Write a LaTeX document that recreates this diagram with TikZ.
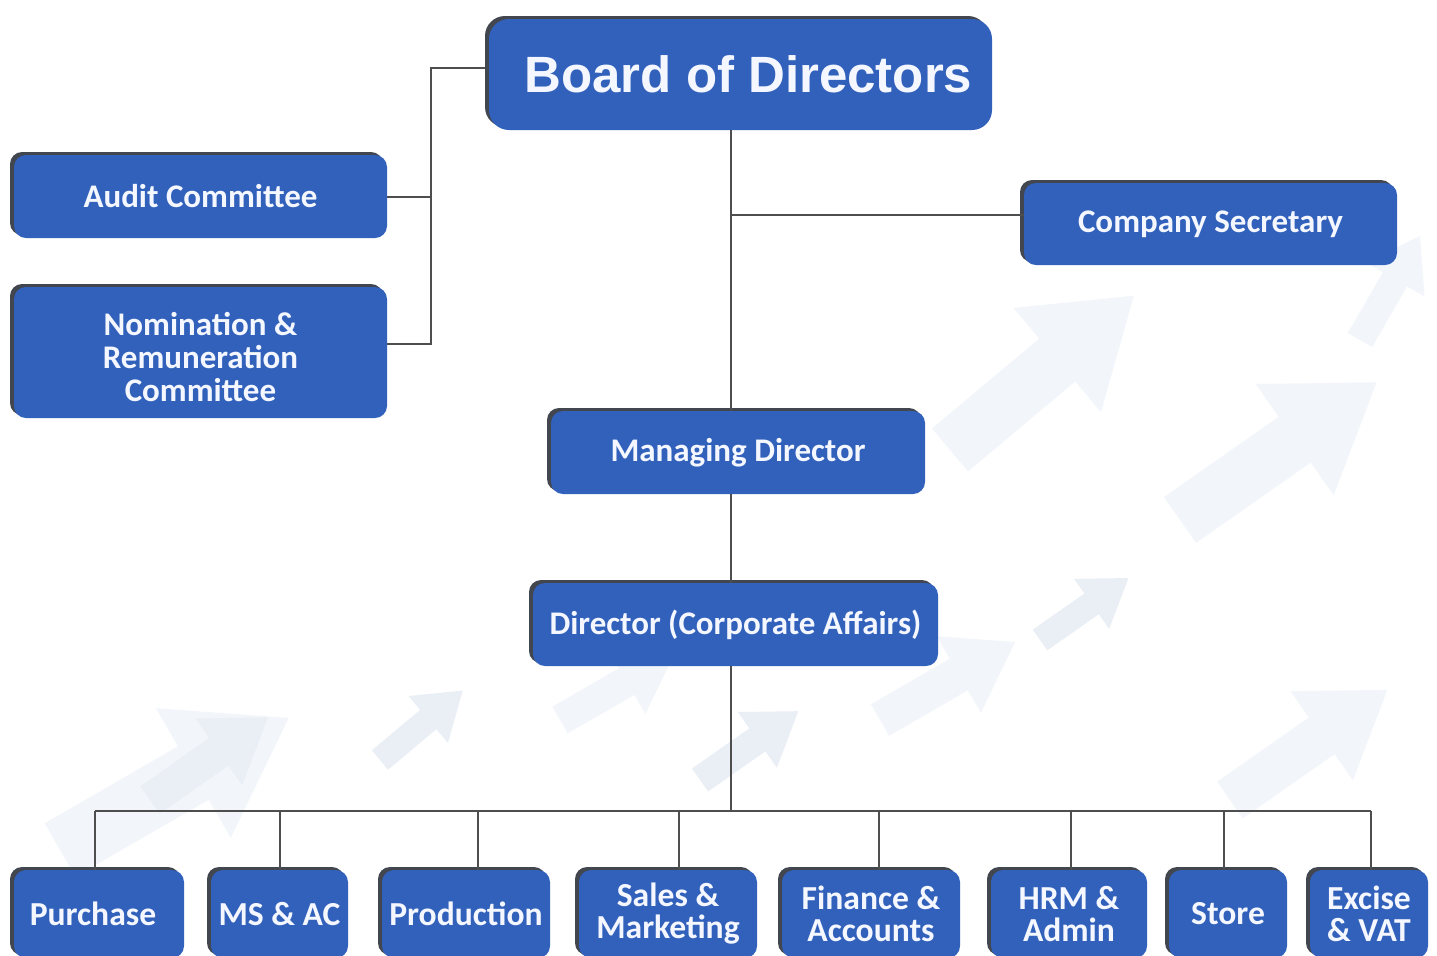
\documentclass[tikz,border=0pt]{standalone}
\usepackage{fontspec}
\setmainfont{Carlito}
\newfontfamily\boardfont{Liberation Sans}
\usetikzlibrary{shadows}
\definecolor{boxblue}{RGB}{50,97,188}
\definecolor{shadowgray}{RGB}{66,70,78}
\definecolor{linegray}{RGB}{78,78,78}
\definecolor{txtcol}{RGB}{244,247,255}
\definecolor{bgA}{RGB}{242,246,251}
\definecolor{bgB}{RGB}{234,239,246}
\newcommand{\bgarrow}[5]{%
  \begin{scope}[shift={(#1,#2)}, rotate=#3, scale=#4]
    \fill[#5] (0,-14) -- (70,-14) -- (70,-34) -- (120,0) -- (70,34) -- (70,14) -- (0,14) -- cycle;
  \end{scope}}
\tikzset{
  orgbox/.style={draw=none, fill=boxblue, rounded corners=6pt, text=txtcol,
    font=\bfseries\fontsize{16.5}{16.5}\selectfont, align=center, inner sep=0pt,
    general shadow={fill=shadowgray, shadow xshift=-2pt, shadow yshift=1.5pt}},
  botbox/.style={orgbox, minimum height=44pt, font=\bfseries\fontsize{16.8}{16}\selectfont},
  link/.style={draw=linegray, line width=1pt},
}
\begin{document}
\begin{tikzpicture}[x=0.5pt,y=-0.5pt]
\useasboundingbox (0,0) rectangle (1437,955);
\clip (0,0) rectangle (1437,955);
\fill[white] (0,0) rectangle (1437,955);
% faint background arrows
\bgarrow{60}{850}{30}{2.2}{bgA}
\bgarrow{150}{800}{35}{1.2}{bgB}
\bgarrow{380}{760}{40}{0.9}{bgB}
\bgarrow{560}{720}{30}{1.1}{bgA}
\bgarrow{700}{780}{35}{1.0}{bgB}
\bgarrow{880}{720}{30}{1.3}{bgA}
\bgarrow{1040}{640}{35}{0.9}{bgB}
\bgarrow{950}{450}{40}{2.0}{bgA}
\bgarrow{1180}{520}{35}{2.0}{bgA}
\bgarrow{1230}{800}{35}{1.6}{bgA}
\bgarrow{1360}{340}{60}{1.0}{bgA}

% nodes
\node[orgbox, minimum width=251.5pt, minimum height=55.5pt, rounded corners=10pt,
  font=\boardfont\bfseries\fontsize{25.5}{25.5}\selectfont] (board) at (740.5,74.5) {\hspace{8pt}Board of Directors};
\node[orgbox, minimum width=186.5pt, minimum height=41.5pt] (audit) at (200.5,196.5) {Audit Committee};
\node[orgbox, minimum width=186.5pt, minimum height=65.5pt] (nom) at (200.5,352.5) {\rule{0pt}{16pt}Nomination \&\\Remuneration\\Committee};
\node[orgbox, minimum width=186.5pt, minimum height=41pt] (sec) at (1210.5,224) {Company Secretary};
\node[orgbox, minimum width=187pt, minimum height=41.5pt] (md) at (738,452.5) {Managing Director};
\node[orgbox, minimum width=202.5pt, minimum height=41.5pt] (dir) at (735.5,624.5) {Director (Corporate Affairs)};

\node[botbox, minimum width=85pt] (purchase) at (99,914) {Purchase\hspace{6pt}};
\node[botbox, minimum width=68.5pt] (msac) at (279.5,914) {MS \& AC};
\node[botbox, minimum width=84pt] (prod) at (466,914) {Production};
\node[botbox, minimum width=89pt] (sales) at (668,914) {Sales \&\\Marketing};
\node[botbox, minimum width=89pt] (fin) at (871,914) {Finance \&\\Accounts};
\node[botbox, minimum width=78pt] (hrm) at (1069,914) {HRM \&\\Admin};
\node[botbox, minimum width=59pt] (store) at (1228,914) {Store};
\node[botbox, minimum width=59pt] (excise) at (1369,914) {Excise\\\& VAT};

% helper coordinates
\coordinate (cj) at (431,68);
\coordinate (spine) at (731,0);
\coordinate (bus) at (0,811);
\coordinate (d1) at ([xshift=-2pt]purchase.north);
\coordinate (d2) at (msac.north);
\coordinate (d3) at ([xshift=6pt]prod.north);
\coordinate (d4) at ([xshift=5.5pt]sales.north);
\coordinate (d5) at ([xshift=4pt]fin.north);
\coordinate (d6) at ([xshift=1pt]hrm.north);
\coordinate (d7) at ([xshift=-2pt]store.north);
\coordinate (d8) at ([xshift=1pt]excise.north);
\coordinate (nomj) at ([yshift=4.5pt]nom.east);
\coordinate (secj) at ([yshift=4.5pt]sec.west);

% connectors
\draw[link] ([xshift=-2pt]board.west |- cj) -- (cj) |- (nomj);
\draw[link] (audit.east) -- (audit.east -| cj);
\draw[link] (board.south -| spine) -- (md.north -| spine);
\draw[link] (secj) -- (secj -| spine);
\draw[link] (md.south -| spine) -- (dir.north -| spine);
\draw[link] (dir.south -| spine) -- (spine |- bus);
\draw[link] (d1 |- bus) -- (d8 |- bus);
\foreach \d in {d1,d2,d3,d4,d5,d6,d7,d8} { \draw[link] (\d |- bus) -- (\d); }
\end{tikzpicture}
\end{document}
